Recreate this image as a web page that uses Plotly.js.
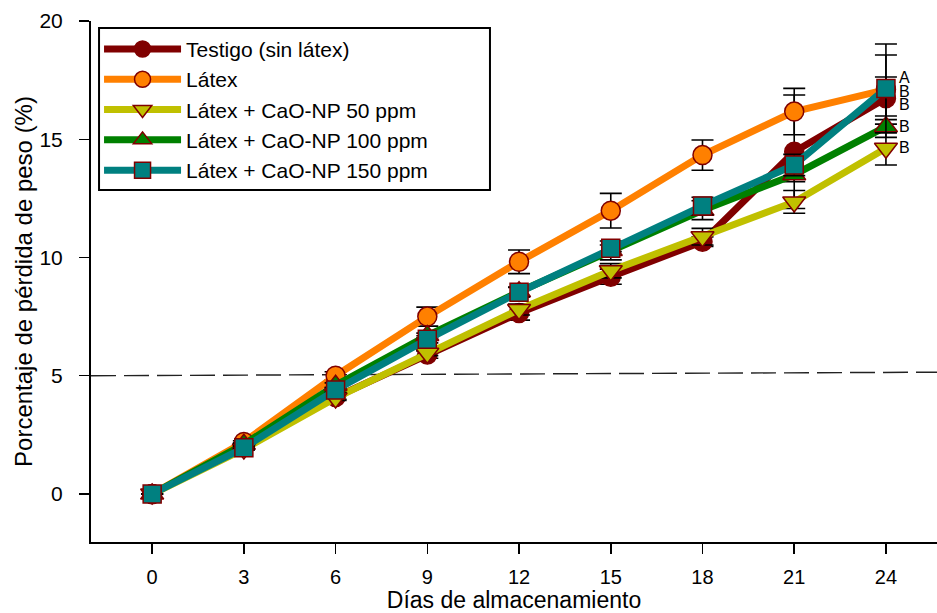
<!DOCTYPE html>
<html>
<head>
<meta charset="utf-8">
<script src="https://cdn.plot.ly/plotly-3.0.1.min.js"></script>
<style>
  html, body { margin: 0; padding: 0; background: #fff; }
  #chart { width: 937px; height: 613px; }
</style>
</head>
<body>
<div id="chart"></div>
<script>
// Días de almacenamiento
const dias = [0, 3, 6, 9, 12, 15, 18, 21, 24];

// Pérdida de peso (%) por tratamiento
const testigo = [0, 2.0, 4.1, 5.9, 7.65, 9.19, 10.67, 14.47, 16.73];
const latex   = [0, 2.2, 5.0, 7.5, 9.82, 11.98, 14.33, 16.17, 17.1];
const cao50   = [0, 1.9, 4.06, 5.95, 7.8, 9.44, 10.88, 12.35, 14.62];
const cao100  = [0, 2.1, 4.6, 6.7, 8.55, 10.3, 12.0, 13.5, 15.53];
const cao150  = [0, 1.95, 4.4, 6.54, 8.53, 10.39, 12.18, 13.91, 17.15];

// Error estándar
const errTestigo = [0, 0.05, 0.1, 0.16, 0.3, 0.32, 0.2, 2.4, 0.9];
const errLatex   = [0, 0.05, 0.17, 0.4, 0.5, 0.73, 0.64, 0.98, 1.46];
const errCao50   = [0, 0.05, 0.1, 0.1, 0.23, 0.3, 0.35, 0.48, 0.71];
const errCao100  = [0, 0.05, 0.1, 0.1, 0.2, 0.4, 0.4, 0.3, 0.45];
const errCao150  = [0, 0.05, 0.1, 0.15, 0.2, 0.14, 0.37, 0.45, 1.88];

const nombres = [
  'Testigo (sin látex)',
  'Látex',
  'Látex + CaO-NP 50 ppm',
  'Látex + CaO-NP 100 ppm',
  'Látex + CaO-NP 150 ppm'
];

// Letras de comparación de medias al día 24
const letras = ['A', 'B', 'B', 'B', 'B'];
const letrasY = [17.63, 17.04, 16.49, 15.52, 14.67];

// Línea de referencia del 5 %
const limiteX = [-2, 25.67];
const limiteY = [5.0, 5.15];

const FONT = 'Liberation Sans, Arial, sans-serif';
const borde = '#800000';

const estilos = [
  { color: '#800000', symbol: 'circle', size: 19 },
  { color: '#FF8000', symbol: 'circle', size: 19 },
  { color: '#C0C000', symbol: 'triangle-down', size: 20 },
  { color: '#008000', symbol: 'triangle-up', size: 20 },
  { color: '#008080', symbol: 'square', size: 18 }
];

const series = [testigo, latex, cao50, cao100, cao150];
const errores = [errTestigo, errLatex, errCao50, errCao100, errCao150];

const traces = series.map((ys, i) => ({
  type: 'scatter',
  mode: 'lines+markers',
  name: nombres[i],
  x: dias,
  y: ys,
  line: { color: estilos[i].color, width: 7 },
  marker: {
    color: estilos[i].color,
    symbol: estilos[i].symbol,
    size: estilos[i].size,
    line: { color: borde, width: 1.5 }
  },
  error_y: {
    type: 'data',
    array: errores[i],
    visible: true,
    color: '#000',
    thickness: 1.6,
    width: 11
  }
}));

// Línea discontinua de referencia
traces.unshift({
  type: 'scatter',
  mode: 'lines',
  x: limiteX,
  y: limiteY,
  showlegend: false,
  hoverinfo: 'skip',
  line: { color: '#222', width: 1.4, dash: '25px,8px' }
});

const annotations = letras.map((t, i) => ({
  x: 24.36,
  y: letrasY[i],
  xref: 'x',
  yref: 'y',
  text: t,
  showarrow: false,
  xanchor: 'left',
  yanchor: 'middle',
  font: { family: FONT, size: 16, color: '#000' }
}));

const layout = {
  width: 937,
  height: 613,
  margin: { l: 91, r: 0, t: 21, b: 71 },
  paper_bgcolor: '#fff',
  plot_bgcolor: '#fff',
  showlegend: true,
  legend: {
    x: 0.0095,
    y: 0.985,
    xanchor: 'left',
    yanchor: 'top',
    bgcolor: 'rgba(0,0,0,0)',
    borderwidth: 0,
    itemwidth: 77,
    tracegroupgap: 0,
    font: { family: FONT, size: 21, color: '#000' }
  },
  // marco de la leyenda
  shapes: [{
    type: 'rect',
    xref: 'paper',
    yref: 'paper',
    x0: 0.0095,
    x1: 0.4716,
    y0: 0.6756,
    y1: 0.9866,
    fillcolor: '#fff',
    line: { color: '#000', width: 2 },
    layer: 'above'
  }],
  xaxis: {
    range: limiteX,
    tickmode: 'array',
    tickvals: dias,
    ticktext: dias.map(String),
    ticks: 'outside',
    ticklen: 10,
    tickwidth: 1.5,
    tickcolor: '#000',
    ticklabelstandoff: 6,
    showline: true,
    linecolor: '#000',
    linewidth: 2,
    showgrid: false,
    zeroline: false,
    tickfont: { family: FONT, size: 20, color: '#000' },
    title: {
      text: 'Días de almacenamiento',
      font: { family: FONT, size: 23, color: '#000' },
      standoff: 2
    }
  },
  yaxis: {
    range: [-2.03, 20],
    tickmode: 'array',
    tickvals: [0, 5, 10, 15, 20],
    ticks: 'outside',
    ticklen: 10,
    tickwidth: 1.5,
    tickcolor: '#000',
    ticklabelstandoff: 12,
    showline: true,
    linecolor: '#000',
    linewidth: 2,
    showgrid: false,
    zeroline: false,
    tickfont: { family: FONT, size: 21, color: '#000' },
    title: {
      text: 'Porcentaje de pérdida de peso (%)',
      font: { family: FONT, size: 24, color: '#000' },
      standoff: 0
    }
  },
  annotations: annotations
};

Plotly.newPlot('chart', traces, layout, { displayModeBar: false, staticPlot: true });
</script>
</body>
</html>
